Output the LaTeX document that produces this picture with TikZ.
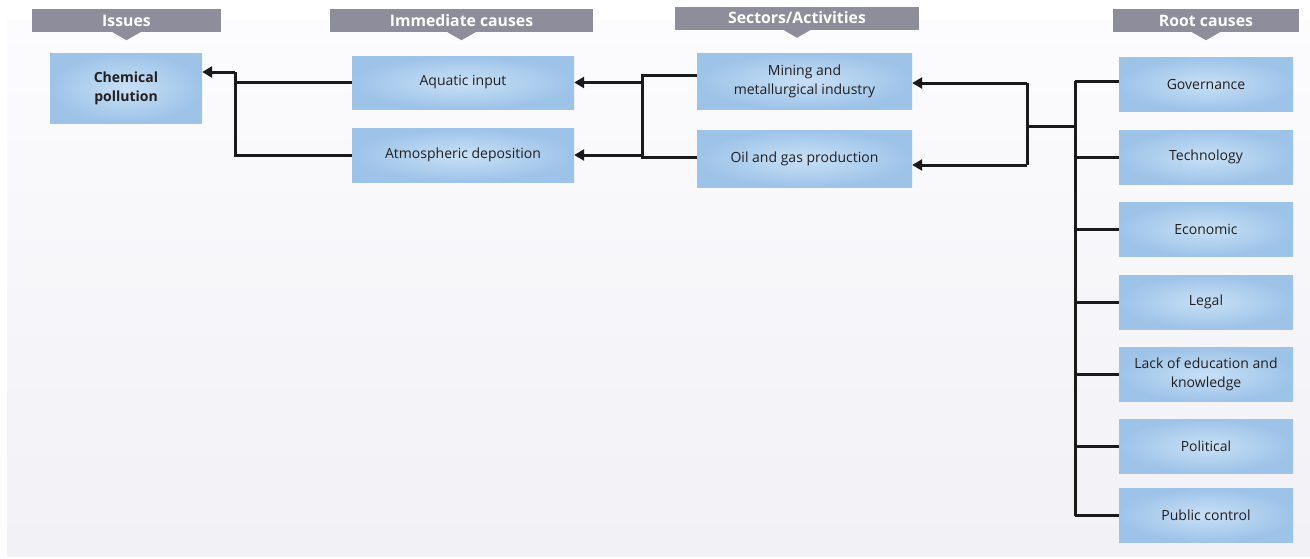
\documentclass[tikz,border=0pt]{standalone}
\usepackage{fontspec}
\setmainfont{Open Sans}
\usetikzlibrary{arrows.meta}
\definecolor{hdrgray}{RGB}{142,141,155}
\definecolor{boxin}{RGB}{200,224,246}
\definecolor{boxout}{RGB}{157,195,232}
\definecolor{bgtop}{RGB}{252,252,254}
\definecolor{bgbot}{RGB}{241,241,246}
\definecolor{ink}{RGB}{26,26,26}
\definecolor{txt}{RGB}{35,31,32}
\begin{document}
\begin{tikzpicture}[x=1pt,y=-1pt,
  hdr/.style={fill=hdrgray, text=white, font=\bfseries\fontsize{15.8}{18}\selectfont, inner sep=0pt, minimum height=23pt},
  tri/.style={fill=hdrgray},
  bx/.style={inner color=boxin, outer color=boxout, text=txt, font=\fontsize{14}{19}\selectfont, align=center, inner sep=0pt},
  rootbx/.style={bx, minimum width=174pt, minimum height=54pt},
  ln/.style={draw=ink, line width=3pt},
  arr/.style={ln, -{Triangle[length=10pt,width=11pt]}}]
\useasboundingbox (0,0) rectangle (1310,558);
\fill[top color=bgtop, bottom color=bgbot] (7,20) rectangle (1310,556);

% headers
\node[hdr, minimum width=189pt] (hIss) at (126.5,20.5) {Issues};
\node[hdr, minimum width=263pt] (hImm) at (461.5,20.5) {Immediate causes};
\node[hdr, minimum width=244pt] (hSec) at (797,18) {Sectors/Activities};
\node[hdr, minimum width=186pt] (hRoot) at (1206,20.5) {Root causes};
\foreach \h in {hIss,hImm,hSec,hRoot}{
  \fill[tri] ([xshift=-14pt]\h.south) -- ([xshift=14pt]\h.south) -- ([yshift=-8pt]\h.south) -- cycle;
}

% boxes
\node[bx, minimum width=152pt, minimum height=70pt] (chem) at (126,88) {\bfseries Chemical\\\bfseries pollution};
\node[bx, minimum width=222pt, minimum height=53pt] (aqua) at (463,82.5) {Aquatic input};
\node[bx, minimum width=222pt, minimum height=54pt] (atm) at (463,155) {Atmospheric deposition};
\node[bx, minimum width=215pt, minimum height=56pt] (mine) at (804.5,81) {Mining and\\metallurgical industry};
\node[bx, minimum width=215pt, minimum height=57pt] (oil) at (804.5,158.5) {Oil and gas production};

\node[rootbx] (gov) at (1206,84) {Governance};
\node[rootbx] (tech) at (1206,157) {Technology};
\node[rootbx] (econ) at (1206,229) {Economic};
\node[rootbx] (legal) at (1206,302) {Legal};
\node[rootbx] (lack) at (1206,374.5) {Lack of education and\\knowledge};
\node[rootbx] (pol) at (1206,446) {Political};
\node[rootbx] (pub) at (1206,515) {Public control};

% connectors left
\coordinate (b1) at (235,72);
\draw[ln] (aqua.west) -| (b1);
\draw[ln] (atm.west) -| (b1);
\draw[arr] (b1) -- (chem.east |- b1);

% middle bus
\coordinate (b2t) at (642,75);
\coordinate (b2b) at (642,157);
\draw[ln] (mine.west |- b2t) -- (b2t) -- (b2b) -- (oil.west |- b2b);
\draw[arr] (b2t |- aqua.east) -- (aqua.east);
\draw[arr] (b2b |- atm.east) -- (atm.east);

% right bus
\coordinate (b3t) at (1027,83);
\coordinate (b3b) at (1027,165);
\coordinate (b3m) at (1027,126);
\coordinate (b4t) at (1075,81);
\coordinate (b4b) at (1075,516);
\draw[arr] (b3t) -- (mine.east |- b3t);
\draw[arr] (b3b) -- (oil.east |- b3b);
\draw[ln] (b3t) -- (b3b);
\draw[ln] (b3m) -- (b4t |- b3m);
\draw[ln] (b4t) -- (b4b);
\draw[ln] (b4t) -- (gov.west |- b4t);
\foreach \r in {tech,econ,legal,lack,pol,pub}{
  \draw[ln] (b4t |- \r.west) -- (\r.west);
}
\end{tikzpicture}
\end{document}
